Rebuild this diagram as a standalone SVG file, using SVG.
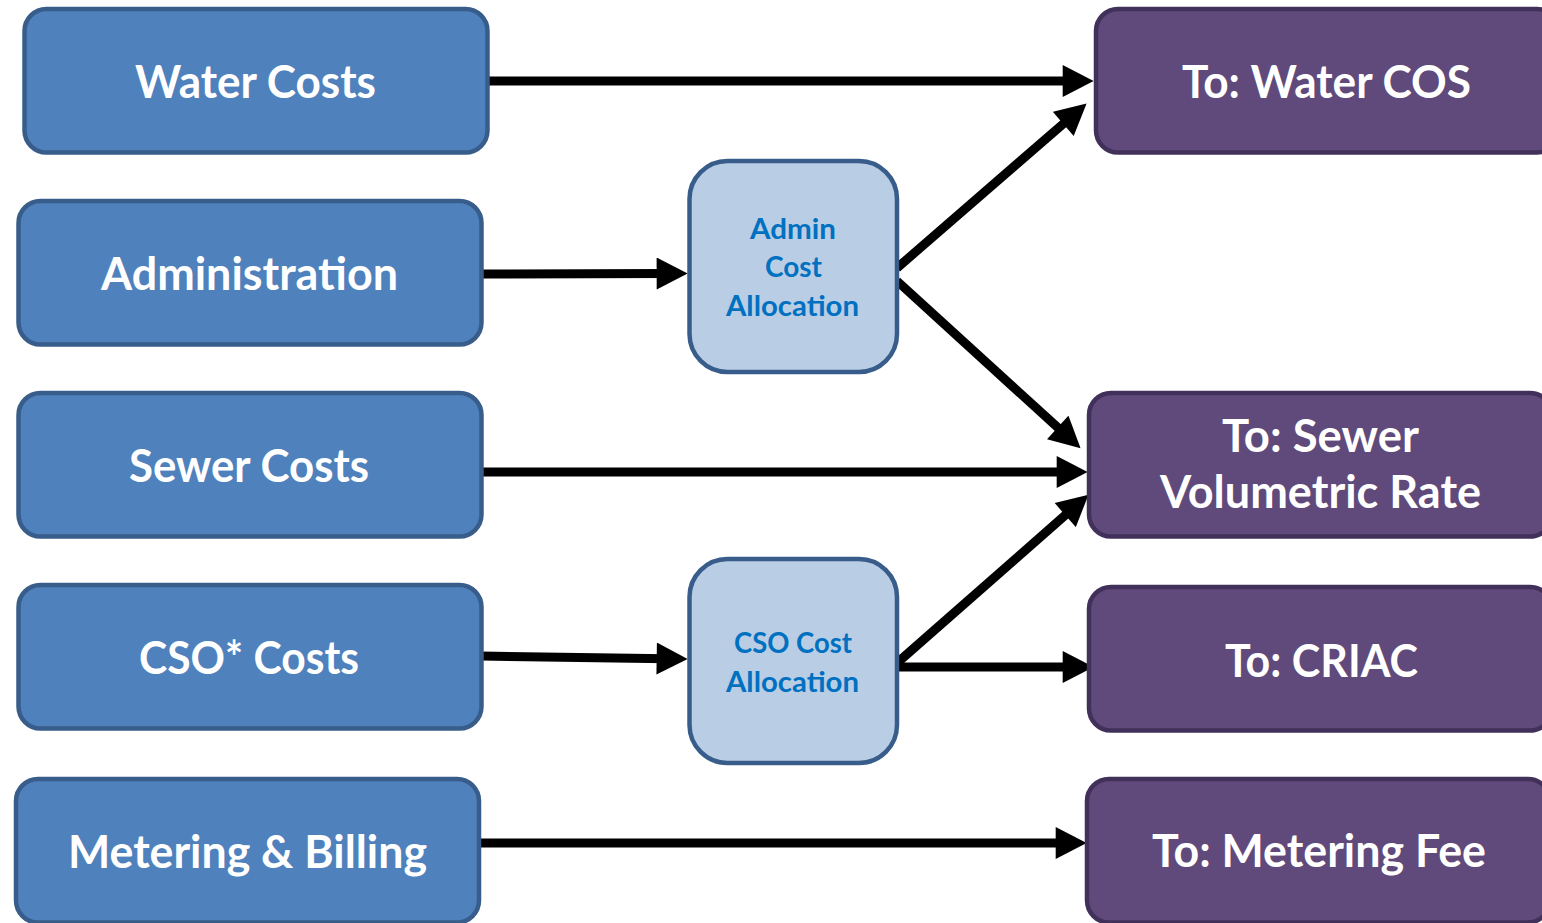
<svg xmlns="http://www.w3.org/2000/svg" width="1542" height="923" viewBox="0 0 1542 923">
<style>
.src rect{fill:#4F81BD;stroke:#385D8A;stroke-width:4.5}
.dst rect{fill:#604A7B;stroke:#41305A;stroke-width:4.5}
.mid rect{fill:#B9CDE5;stroke:#385D8A;stroke-width:4.5}
text{font-family:Lato,"Open Sans","Liberation Sans",sans-serif;font-weight:bold;text-anchor:middle}
.src text,.dst text{fill:#FFFFFF;font-size:45px}
.mid text{fill:#0070C0;font-size:28px}
.conn line{stroke:#000;stroke-width:9;marker-end:url(#ah)}
</style>
<defs>
<marker id="ah" markerUnits="userSpaceOnUse" markerWidth="32" markerHeight="32" viewBox="0 0 30 31" refX="10" refY="15.5" orient="auto">
<path d="M0,0 L30,15.5 L0,31 z" fill="#000"/>
</marker>
</defs>
<rect width="1542" height="923" fill="#FFFFFF"/>
<g id="connectors" class="conn">
<line x1="486" y1="81" x2="1073" y2="81"/>
<line x1="480" y1="274" x2="667" y2="273.5"/>
<line x1="897" y1="268" x2="1071" y2="117.1"/>
<line x1="897" y1="281" x2="1065.3" y2="434.4"/>
<line x1="480" y1="472" x2="1067" y2="472"/>
<line x1="480" y1="656" x2="667" y2="658.7"/>
<line x1="897" y1="663" x2="1073" y2="508.3"/>
<line x1="897" y1="667" x2="1073" y2="667"/>
<line x1="478" y1="843" x2="1066" y2="843"/>
</g>
<g id="water-costs" class="src"><rect x="24.5" y="9" width="463" height="143.5" rx="22"/><text x="255.5" y="98" textLength="241" lengthAdjust="spacingAndGlyphs">Water Costs</text></g>
<g id="administration" class="src"><rect x="18.5" y="201" width="463" height="143.5" rx="22"/><text x="249.5" y="290" textLength="297" lengthAdjust="spacingAndGlyphs">Administration</text></g>
<g id="sewer-costs" class="src"><rect x="18.5" y="393" width="463" height="143.5" rx="22"/><text x="249" y="482" textLength="240" lengthAdjust="spacingAndGlyphs">Sewer Costs</text></g>
<g id="cso-costs" class="src"><rect x="18.5" y="585" width="463" height="143.5" rx="22"/><text x="249" y="674" textLength="220" lengthAdjust="spacingAndGlyphs">CSO* Costs</text></g>
<g id="metering-billing" class="src"><rect x="16" y="779" width="463" height="143.5" rx="22"/><text x="247.5" y="868" textLength="359" lengthAdjust="spacingAndGlyphs">Metering &amp; Billing</text></g>
<g id="admin-cost-allocation" class="mid"><rect x="689.5" y="161" width="207.5" height="211" rx="38"/><text x="793" y="239" textLength="86" lengthAdjust="spacingAndGlyphs">Admin</text><text x="793.5" y="277" textLength="57" lengthAdjust="spacingAndGlyphs">Cost</text><text x="792.5" y="316" textLength="133" lengthAdjust="spacingAndGlyphs">Allocation</text></g>
<g id="cso-cost-allocation" class="mid"><rect x="689.5" y="559" width="207.5" height="204" rx="38"/><text x="793" y="653" textLength="118" lengthAdjust="spacingAndGlyphs">CSO Cost</text><text x="792.5" y="692" textLength="133" lengthAdjust="spacingAndGlyphs">Allocation</text></g>
<g id="to-water-cos" class="dst"><rect x="1096" y="9" width="463" height="143.5" rx="22"/><text x="1326.5" y="98" textLength="289" lengthAdjust="spacingAndGlyphs">To: Water COS</text></g>
<g id="to-sewer-volumetric-rate" class="dst"><rect x="1089" y="393" width="463" height="143.5" rx="22"/><text x="1320.5" y="452" textLength="197" lengthAdjust="spacingAndGlyphs">To: Sewer</text><text x="1320.5" y="508" textLength="321" lengthAdjust="spacingAndGlyphs">Volumetric Rate</text></g>
<g id="to-criac" class="dst"><rect x="1089" y="587" width="463" height="143.5" rx="22"/><text x="1321.5" y="677" textLength="193" lengthAdjust="spacingAndGlyphs">To: CRIAC</text></g>
<g id="to-metering-fee" class="dst"><rect x="1087" y="779" width="463" height="143.5" rx="22"/><text x="1319" y="867" textLength="334" lengthAdjust="spacingAndGlyphs">To: Metering Fee</text></g>
</svg>
